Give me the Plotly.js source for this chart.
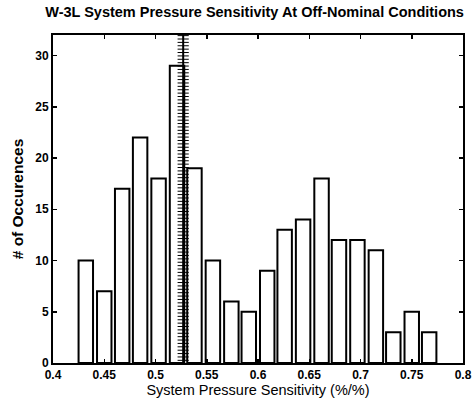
<!DOCTYPE html>
<html>
<head>
<meta charset="utf-8">
<script src="https://cdn.plot.ly/plotly-3.0.1.min.js"></script>
<style>
html,body{margin:0;padding:0;background:#fff;}
#chart{width:475px;height:402px;}
</style>
</head>
<body>
<div id="chart"></div>
<script>
// Histogram bin centres (System Pressure Sensitivity, %/%)
const binCenters = [0.432, 0.450, 0.4675, 0.485, 0.503, 0.521, 0.538, 0.556, 0.574, 0.591,
                    0.609, 0.626, 0.644, 0.662, 0.679, 0.697, 0.715, 0.732, 0.750, 0.767];
// Number of occurrences per bin
const counts = [10, 7, 17, 22, 18, 29, 19, 10, 6, 5,
                9, 13, 14, 18, 12, 12, 11, 3, 5, 3];
// Nominal value marker line
const nominalX = 0.527;
const xTicks = [0.4, 0.45, 0.5, 0.55, 0.6, 0.65, 0.7, 0.75, 0.8];
const xTickLabels = ["0.4", "0.45", "0.5", "0.55", "0.6", "0.65", "0.7", "0.75", "0.8"];
const yTicks = [0, 5, 10, 15, 20, 25, 30];

// sample points along the nominal line (for the hatch marks)
const lineY = [];
for (let y = -0.4; y <= 32.41; y += 0.33) lineY.push(y);
const lineX = lineY.map(() => nominalX);

const font = "Liberation Sans, Arial, sans-serif";

const traces = [
  {
    type: "bar",
    x: binCenters,
    y: counts,
    width: 0.0141,
    marker: {color: "#ffffff", line: {color: "#000000", width: 2}},
    hoverinfo: "x+y"
  },
  {
    type: "scatter",
    mode: "lines+markers",
    x: lineX,
    y: lineY,
    line: {color: "#000000", width: 2},
    marker: {symbol: "line-ew", size: 8, line: {color: "#000000", width: 1}},
    cliponaxis: false,
    hoverinfo: "skip"
  }
];

const layout = {
  width: 475,
  height: 402,
  margin: {l: 53, r: 12, t: 35, b: 39},
  paper_bgcolor: "#ffffff",
  plot_bgcolor: "#ffffff",
  showlegend: false,
  title: {
    text: "<b>W-3L System Pressure Sensitivity At Off-Nominal Conditions</b>",
    font: {family: font, size: 14.5, color: "#000"},
    x: 0.536, xanchor: "center", y: 0.983, yanchor: "top"
  },
  xaxis: {
    range: [0.4, 0.8],
    tickvals: xTicks,
    ticktext: xTickLabels,
    ticks: "inside", ticklen: 4, tickwidth: 1.5, tickcolor: "#000",
    showline: true, linecolor: "#000", linewidth: 2, mirror: "ticks",
    showgrid: false, zeroline: false,
    tickfont: {family: font, size: 12, color: "#000", weight: "bold"},
    title: {text: "System Pressure Sensitivity (%/%)", font: {family: font, size: 14.5, color: "#000"}, standoff: 2}
  },
  yaxis: {
    range: [0, 32],
    tickvals: yTicks,
    ticks: "inside", ticklen: 4, tickwidth: 1.5, tickcolor: "#000",
    showline: true, linecolor: "#000", linewidth: 2, mirror: "ticks",
    showgrid: false, zeroline: false,
    tickfont: {family: font, size: 12, color: "#000", weight: "bold"},
    title: {text: "<b># of Occurences</b>", font: {family: font, size: 15.5, color: "#000"}, standoff: 8}
  }
};

Plotly.newPlot("chart", traces, layout, {displayModeBar: false, staticPlot: true});
</script>
</body>
</html>
